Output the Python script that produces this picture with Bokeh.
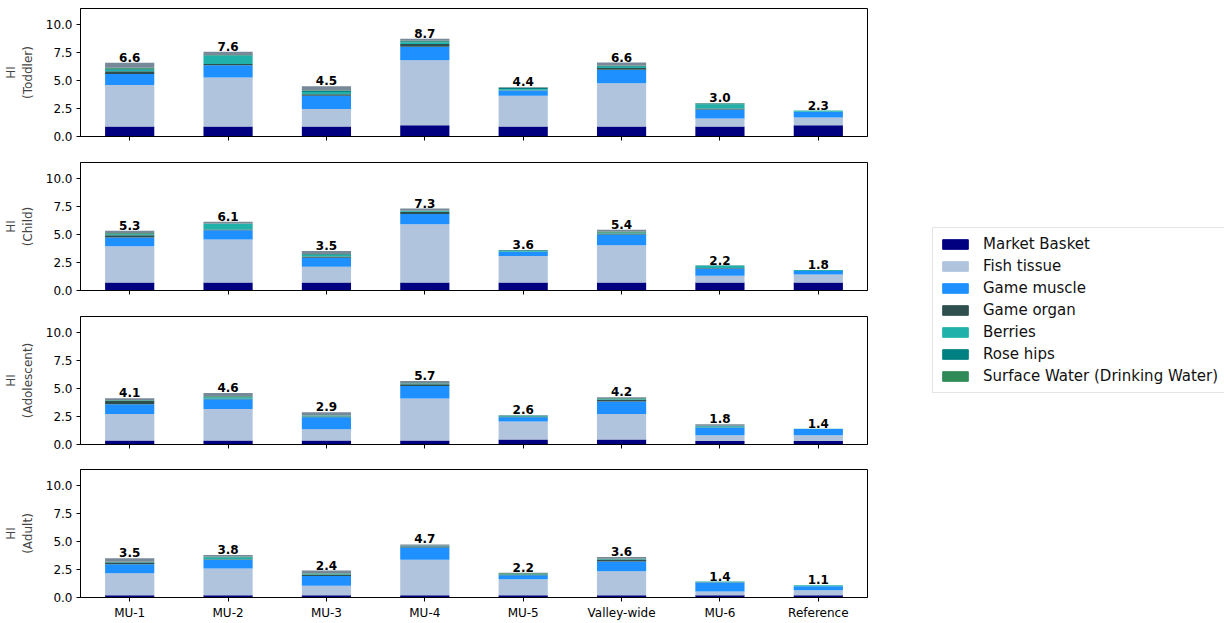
from bokeh.plotting import figure
from bokeh.models import (ColumnDataSource, FactorRange, Range1d, FixedTicker,
                          PrintfTickFormatter, LabelSet, Legend, LegendItem)
from bokeh.core.properties import value
from bokeh.layouts import row, column
from bokeh.embed import file_html
from bokeh.resources import INLINE

categories = ["MU-1", "MU-2", "MU-3", "MU-4", "MU-5", "Valley-wide", "MU-6", "Reference"]
components = ["Market Basket", "Fish tissue", "Game muscle", "Game organ", "Berries",
              "Rose hips", "Surface Water (Drinking Water)", "Other"]
legend_components = components[:7]
colors = ["#000080", "#B0C4DE", "#1E90FF", "#2F4F4F", "#20B2AA", "#008080", "#2E8B57", "#778899"]
age_groups = ["Toddler", "Child", "Adolescent", "Adult"]
y_ticks = [0, 2.5, 5, 7.5, 10]

toddler = {
    "Market Basket": [0.90, 0.90, 0.90, 1.00, 0.90, 0.90, 0.90, 1.00],
    "Fish tissue":   [3.70, 4.37, 1.55, 5.80, 2.75, 3.85, 0.70, 0.70],
    "Game muscle":   [0.98, 1.10, 1.18, 1.22, 0.45, 1.20, 0.82, 0.52],
    "Game organ":    [0.25, 0.10, 0.15, 0.24, 0.03, 0.17, 0.08, 0.00],
    "Berries":       [0.12, 0.75, 0.20, 0.15, 0.10, 0.10, 0.35, 0.10],
    "Rose hips":     [0.10, 0.03, 0.10, 0.10, 0.12, 0.08, 0.10, 0.00],
    "Surface Water (Drinking Water)": [0.08, 0.02, 0.05, 0.05, 0.02, 0.05, 0.03, 0.00],
    "Other":         [0.45, 0.30, 0.35, 0.16, 0.05, 0.25, 0.02, 0.00],
}
child = {
    "Market Basket": [0.72, 0.72, 0.72, 0.72, 0.72, 0.72, 0.72, 0.72],
    "Fish tissue":   [3.23, 3.83, 1.40, 5.20, 2.37, 3.32, 0.60, 0.70],
    "Game muscle":   [0.78, 0.83, 0.80, 0.92, 0.36, 0.96, 0.64, 0.32],
    "Game organ":    [0.20, 0.06, 0.12, 0.18, 0.02, 0.10, 0.04, 0.00],
    "Berries":       [0.08, 0.50, 0.12, 0.05, 0.06, 0.04, 0.18, 0.08],
    "Rose hips":     [0.06, 0.02, 0.08, 0.05, 0.06, 0.05, 0.05, 0.00],
    "Surface Water (Drinking Water)": [0.07, 0.02, 0.03, 0.03, 0.01, 0.08, 0.00, 0.00],
    "Other":         [0.20, 0.15, 0.25, 0.17, 0.02, 0.15, 0.00, 0.00],
}
adolescent = {
    "Market Basket": [0.36, 0.36, 0.36, 0.36, 0.45, 0.45, 0.32, 0.32],
    "Fish tissue":   [2.37, 2.82, 1.01, 3.74, 1.60, 2.28, 0.51, 0.51],
    "Game muscle":   [0.87, 0.86, 1.07, 1.13, 0.39, 1.11, 0.69, 0.55],
    "Game organ":    [0.30, 0.05, 0.06, 0.15, 0.02, 0.16, 0.03, 0.00],
    "Berries":       [0.03, 0.10, 0.06, 0.03, 0.05, 0.03, 0.08, 0.02],
    "Rose hips":     [0.03, 0.06, 0.04, 0.03, 0.07, 0.03, 0.03, 0.00],
    "Surface Water (Drinking Water)": [0.02, 0.05, 0.02, 0.04, 0.01, 0.06, 0.02, 0.00],
    "Other":         [0.14, 0.30, 0.26, 0.20, 0.02, 0.10, 0.12, 0.00],
}
adult = {
    "Market Basket": [0.20, 0.20, 0.20, 0.20, 0.20, 0.20, 0.20, 0.20],
    "Fish tissue":   [1.97, 2.39, 0.84, 3.16, 1.43, 2.15, 0.34, 0.45],
    "Game muscle":   [0.80, 0.77, 0.89, 1.10, 0.36, 0.86, 0.80, 0.36],
    "Game organ":    [0.15, 0.06, 0.12, 0.10, 0.02, 0.14, 0.02, 0.00],
    "Berries":       [0.03, 0.15, 0.04, 0.02, 0.03, 0.03, 0.04, 0.08],
    "Rose hips":     [0.03, 0.05, 0.03, 0.02, 0.04, 0.03, 0.02, 0.00],
    "Surface Water (Drinking Water)": [0.02, 0.05, 0.04, 0.02, 0.08, 0.05, 0.00, 0.00],
    "Other":         [0.30, 0.12, 0.25, 0.12, 0.04, 0.15, 0.00, 0.00],
}
age_data = [toddler, child, adolescent, adult]

FONT = "DejaVu Sans"
keys = ["c%d" % i for i in range(len(components))]

figs = []
for gi, (group, data) in enumerate(zip(age_groups, age_data)):
    last = gi == len(age_groups) - 1
    src = {"cat": categories}
    for k, comp in zip(keys, components):
        src[k] = data[comp]
    totals = [sum(data[c][i] for c in components) for i in range(len(categories))]
    src["total"] = totals
    src["label"] = ["%.1f" % t for t in totals]
    source = ColumnDataSource(src)

    p = figure(x_range=FactorRange(*categories, range_padding=0), y_range=Range1d(0, 11.43),
               frame_width=787, frame_height=128,
               min_border_left=80, min_border_right=3,
               min_border_top=7 if last else 8, min_border_bottom=26 if last else 18,
               output_backend="svg", toolbar_location=None, tools="")
    p.vbar_stack(keys, x="cat", width=0.5, color=colors, source=source, line_color=None)
    labels = LabelSet(x="cat", y="total", text="label", source=source,
                      text_align="center", text_baseline="bottom", y_offset=1,
                      text_font=value(FONT), text_font_size="12px", text_font_style="bold",
                      text_color="black")
    p.add_layout(labels)

    p.xgrid.visible = False
    p.ygrid.visible = False
    p.outline_line_color = "black"
    p.outline_line_width = 1
    p.background_fill_color = "white"
    p.border_fill_color = "white"

    p.yaxis.ticker = FixedTicker(ticks=y_ticks)
    p.yaxis.formatter = PrintfTickFormatter(format="%.1f")
    p.yaxis.axis_label = "HI\n(%s)" % group
    p.yaxis.axis_label_text_font = FONT
    p.yaxis.axis_label_text_font_size = "12px"
    p.yaxis.axis_label_text_font_style = "normal"
    p.yaxis.axis_label_standoff = 8
    for ax in (p.xaxis, p.yaxis):
        ax.major_label_text_font = FONT
        ax.major_label_text_font_size = "12px"
        ax.major_label_text_color = "black"
        ax.major_tick_out = 4
        ax.major_tick_in = 0
        ax.minor_tick_out = 0
        ax.minor_tick_in = 0
        ax.axis_line_color = "black"
        ax.major_tick_line_color = "black"
        ax.major_label_standoff = 4
    if not last:
        p.xaxis.major_label_text_color = None
        p.xaxis.major_label_text_font_size = "8px"
        p.xaxis.major_label_standoff = 0
    figs.append(p)

# legend panel
lg = figure(width=354, height=623, x_range=Range1d(0, 1), y_range=Range1d(0, 1),
            output_backend="svg", toolbar_location=None, tools="",
            min_border=0)
lg.axis.visible = False
lg.grid.visible = False
lg.outline_line_color = None
items = []
for comp, col in zip(legend_components, colors[:7]):
    r = lg.vbar(x=[-5], top=[-5], width=0.5, color=col)
    items.append(LegendItem(label=comp, renderers=[r]))
legend = Legend(items=items, location=(62, 230),
                label_text_font=FONT, label_text_font_size="15px",
                label_text_color="#111111",
                glyph_width=32, glyph_height=12, label_height=20, spacing=2,
                label_standoff=12, padding=6, margin=0,
                border_line_color="#cccccc", border_line_width=1,
                background_fill_color="white")
lg.add_layout(legend)

layout = row(column(*figs, spacing=0), lg, spacing=0)
open("out.html", "w").write(file_html(layout, INLINE))
